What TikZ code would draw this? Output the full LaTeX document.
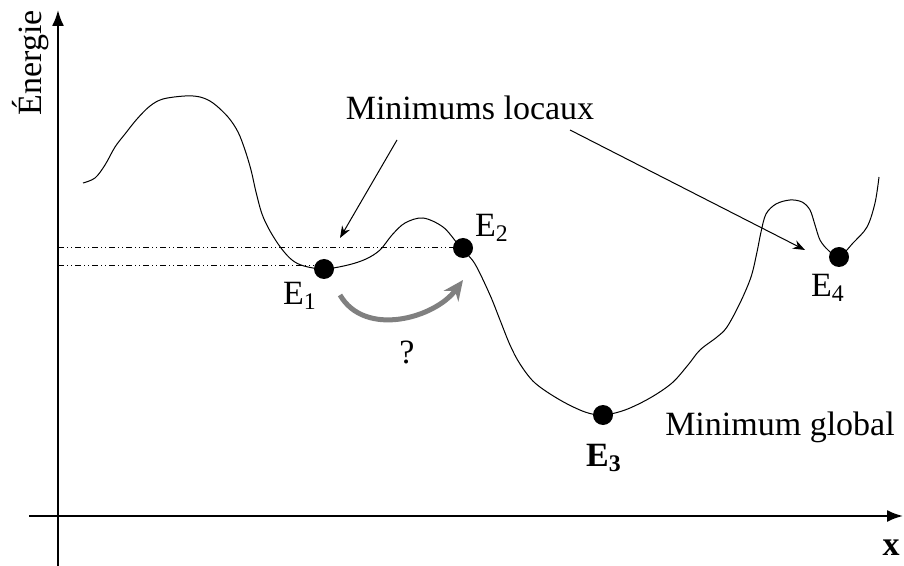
\documentclass[tikz,border=0pt]{standalone}
\usepackage{fontspec}
\setmainfont{Liberation Serif}
\usepackage{tikz}
\usetikzlibrary{arrows.meta}
\definecolor{CInk}{HTML}{000000}
\definecolor{CJump}{HTML}{808080}

\begin{document}
\begin{tikzpicture}[x=0.5pt, y=-0.5pt,
  every node/.style={font=\fontsize{17}{19}\selectfont, text=CInk, inner sep=0pt},
  axis/.style ={-{Latex[length=8pt,width=6pt]}, line width=1pt, draw=CInk},
  land/.style ={line width=0.5pt, draw=CInk},
  level/.style={line width=0.5pt, draw=CInk, dash pattern=on 3pt off 1.5pt on 0.5pt off 1.5pt on 0.5pt off 1.5pt},
  state/.style={circle, fill=CInk, minimum size=10pt, inner sep=0pt},
  pointer/.style={-{Stealth[length=6pt,width=4.5pt]}, line width=0.5pt, draw=CInk},
  jump/.style ={-{Stealth[length=10pt,width=9pt]}, line width=2.5pt, draw=CJump}]
\useasboundingbox (0,0) rectangle (904,566);
% axes
\coordinate (ybot) at (58,566);  \coordinate (ytop) at (58,10);
\coordinate (xleft) at (29,516); \coordinate (xright) at (903,516);
\draw[axis] (ybot) -- (ytop);
\draw[axis] (xleft) -- (xright);
\node[rotate=90] (ylab) at (31,63) {Énergie};
\node (xlab) at (891,548) {\bfseries x};
% minima
\node[state] (e1) at (324,269) {};
\node[state] (e2) at (463,248) {};
\node[state] (e3) at (603,415) {};
\node[state] (e4) at (839,257) {};
\node (l1) at (300,296) {E\textsubscript{1}};
\node (l2) at (492,228) {E\textsubscript{2}};
\node (l3) at (604,458) {\bfseries E\textsubscript{3}};
\node (l4) at (828,288) {E\textsubscript{4}};
% energy levels
\coordinate (h2) at (58,248); \coordinate (h1) at (58,266);
\draw[level] (h2) -- (e2.west);
\draw[level] (h1) -- (h1 -| e1.west);
% landscape
\draw[land] plot[smooth, tension=0.55] coordinates {
  (83,183) (95,178) (105,165) (115,147) (125,134) (137,119) (150,106) (163,99)
  (185,96) (200,97) (213,103) (228,117) (238,132) (245,150) (251,170) (256,192)
  (262,214) (270,231) (281,248) (292,260) (304,266) (324,269) (348,265) (366,259)
  (380,250) (392,235) (405,223) (423,218) (443,227) (457,243) (463,250) (475,264)
  (490,295) (500,320) (510,345) (520,364) (535,383) (560,400) (585,412) (603,415)
  (625,410) (650,398) (672,383) (688,365) (700,350) (717,337) (727,327) (740,303)
  (751,277) (757,252) (761,232) (766,214) (776,204) (790,200) (802,202) (810,210)
  (815,225) (820,240) (828,250) (839,257) (853,243) (867,227) (875,203) (879,177)};
% labels and pointers
\node (loc) at (470,108) {Minimums locaux};
\node (glob) at (780,427) {Minimum global};
\coordinate (a1s) at (397,140); \coordinate (a1e) at (340,238);
\coordinate (a2s) at (570,130); \coordinate (a2e) at (805,250);
\draw[pointer] (a1s) -- (a1e);
\draw[pointer] (a2s) -- (a2e);
% jump E1 -> E2
\coordinate (js) at (340,295); \coordinate (je) at (463,280);
\draw[jump] (js) .. controls (365,338) and (435,318) .. (je);
\node (q) at (407,352) {?};
\end{tikzpicture}
\end{document}
